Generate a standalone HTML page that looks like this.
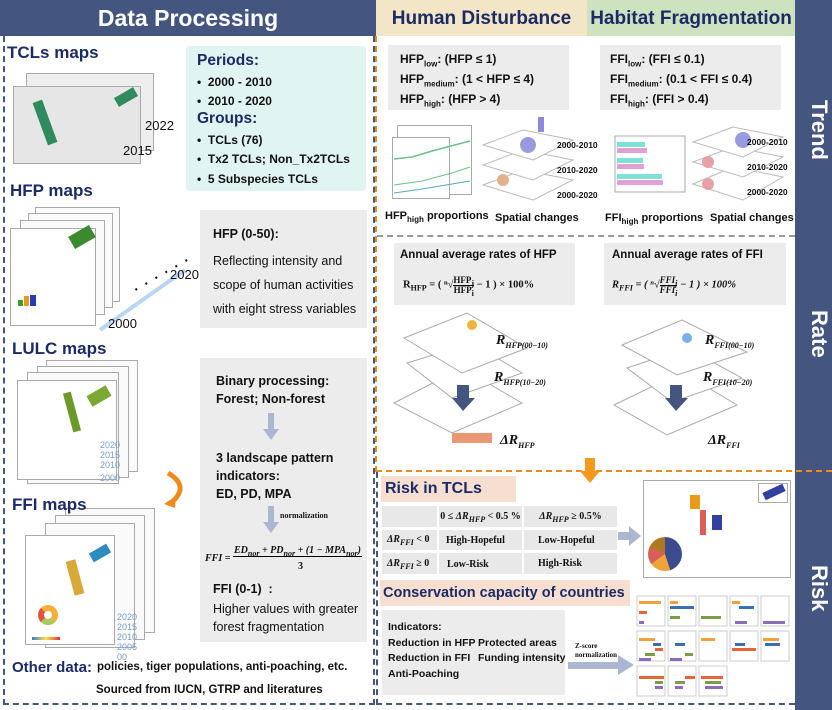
<!DOCTYPE html>
<html><head><meta charset="utf-8"><style>
*{margin:0;padding:0;box-sizing:border-box}
body{width:832px;height:710px;position:relative;background:#fff;font-family:"Liberation Sans",sans-serif;overflow:hidden;color:#111}
.a{position:absolute;white-space:nowrap}
.b{font-weight:bold}
.nv{color:#1c2a66}
.g{background:#ececec}
.serif{font-family:"Liberation Serif",serif;font-weight:bold}
.map{position:absolute;background:#fafafa;border:1px solid #aaa}
sub{font-size:8px;line-height:0}
</style></head><body>
<div class="a b" style="left:0;top:0;width:376px;height:36px;background:#44557f;color:#fff;font-size:23px;text-align:center;line-height:36px">Data Processing</div>
<div class="a b nv" style="left:376px;top:0;width:211px;height:36px;background:#f3e6c6;font-size:19px;text-align:center;line-height:38px">Human Disturbance</div>
<div class="a b nv" style="left:587px;top:0;width:208px;height:36px;background:#cfe2c0;font-size:19px;text-align:center;line-height:38px">Habitat Fragmentation</div>
<div class="a" style="left:795px;top:0;width:37px;height:710px;background:#44557f"></div>
<div class="a b" style="left:795px;top:100px;width:37px;color:#fff;font-size:22px;writing-mode:vertical-rl">Trend</div>
<div class="a b" style="left:795px;top:310px;width:37px;color:#fff;font-size:22px;writing-mode:vertical-rl">Rate</div>
<div class="a b" style="left:795px;top:565px;width:37px;color:#fff;font-size:22px;writing-mode:vertical-rl">Risk</div>

<div class="a" style="left:3px;top:36px;width:372px;height:669px;border:2px dashed #44557f;border-top:none"></div>
<div class="a" style="left:375px;top:36px;width:0;height:436px;border-left:2px dashed #ec8c1e"></div>
<div class="a" style="left:377px;top:235px;width:418px;border-top:2px dashed #999"></div>
<div class="a" style="left:376px;top:470px;width:456px;border-top:2px dashed #ec8c1e"></div>
<div class="a" style="left:376px;top:472px;width:419px;height:233px;border-left:2px dashed #44557f;border-bottom:2px dashed #44557f"></div>

<div class="a b nv" style="left:7px;top:43px;font-size:17px">TCLs maps</div>
<div class="map" style="left:26px;top:73px;width:128px;height:78px;background:#eee"></div>
<div class="map" style="left:13px;top:86px;width:128px;height:78px;background:#e6e6e6"></div>
<div class="a" style="left:40px;top:100px;width:10px;height:45px;background:#2f8a5e;transform:rotate(-20deg)"></div>
<div class="a" style="left:115px;top:92px;width:22px;height:10px;background:#2f8a5e;transform:rotate(-30deg)"></div>
<div class="a" style="left:145px;top:118px;font-size:13px">2022</div>
<div class="a" style="left:123px;top:143px;font-size:13px">2015</div>
<div class="a" style="left:186px;top:46px;width:180px;height:145px;background:#e0f4f2;border-radius:4px"></div>
<div class="a b nv" style="left:197px;top:52px;font-size:15.5px">Periods:</div>
<div class="a b" style="left:197px;top:73px;font-size:12px;line-height:19.3px">•&nbsp;&nbsp;2000 - 2010<br>•&nbsp;&nbsp;2010 - 2020</div>
<div class="a b nv" style="left:197px;top:110px;font-size:15.5px">Groups:</div>
<div class="a b" style="left:197px;top:131px;font-size:12px;line-height:19.3px">•&nbsp;&nbsp;TCLs (76)<br>•&nbsp;&nbsp;Tx2 TCLs; Non_Tx2TCLs<br>•&nbsp;&nbsp;5 Subspecies TCLs</div>

<div class="a b nv" style="left:10px;top:181px;font-size:17px">HFP maps</div>
<div class="map" style="left:35px;top:207px;width:85px;height:95px"></div>
<div class="map" style="left:28px;top:213px;width:85px;height:95px"></div>
<div class="map" style="left:20px;top:220px;width:85px;height:95px"></div>
<div class="map" style="left:10px;top:228px;width:86px;height:98px;background:#fff"></div>
<div class="a" style="left:70px;top:230px;width:24px;height:14px;background:#3b8a2d;transform:rotate(-30deg)"></div>
<div class="a" style="left:18px;top:300px;width:5px;height:6px;background:#3a9d2f"></div>
<div class="a" style="left:24px;top:296px;width:5px;height:10px;background:#e89b1b"></div>
<div class="a" style="left:30px;top:295px;width:6px;height:11px;background:#2c3bb0"></div>
<svg class="a" style="left:95px;top:240px" width="90" height="100"><line x1="5" y1="90" x2="90" y2="30" stroke="#b9d6f2" stroke-width="4"/></svg>
<div class="a" style="left:127px;top:258px;font-size:20px;letter-spacing:6px;transform:rotate(-30deg)">......</div>
<div class="a" style="left:170px;top:267px;font-size:13px">2020</div>
<div class="a" style="left:108px;top:316px;font-size:13px">2000</div>
<div class="a g" style="left:200px;top:210px;width:167px;height:118px"></div>
<div class="a b" style="left:213px;top:227px;font-size:12.5px">HFP (0-50):</div>
<div class="a" style="left:213px;top:249px;font-size:12.5px;line-height:24px">Reflecting intensity and<br>scope of human activities<br>with eight stress variables</div>

<div class="a b nv" style="left:12px;top:339px;font-size:17px">LULC maps</div>
<div class="map" style="left:46px;top:360px;width:92px;height:112px"></div>
<div class="map" style="left:37px;top:366px;width:92px;height:112px"></div>
<div class="map" style="left:27px;top:372px;width:92px;height:112px"></div>
<div class="map" style="left:17px;top:380px;width:100px;height:100px;background:#fff"></div>
<div class="a" style="left:68px;top:392px;width:8px;height:40px;background:#6b9a2a;transform:rotate(-15deg)"></div>
<div class="a" style="left:88px;top:390px;width:22px;height:12px;background:#7aa832;transform:rotate(-30deg)"></div>
<div class="a" style="left:100px;top:440px;font-size:9px;color:#7a9cc6">2020<br>2015<br>2010</div>
<div class="a" style="left:100px;top:473px;font-size:9px;color:#7a9cc6">2000</div>
<svg class="a" style="left:160px;top:468px" width="32" height="40"><path d="M8 5 Q30 18 12 34" stroke="#ec8c1e" stroke-width="5" fill="none"/><path d="M4 36 L16 28 L15 40Z" fill="#ec8c1e"/></svg>
<div class="a g" style="left:200px;top:358px;width:167px;height:284px"></div>
<div class="a b" style="left:216px;top:372px;font-size:12.5px;line-height:18px">Binary processing:<br>Forest; Non-forest</div>
<svg class="a" style="left:262px;top:413px" width="20" height="30"><rect x="6" y="0" width="6" height="18" fill="#aab7cf"/><path d="M1 16 L17 16 L9 27Z" fill="#aab7cf"/></svg>
<div class="a b" style="left:216px;top:449px;font-size:12.5px;line-height:18px">3 landscape pattern<br>indicators:<br>ED, PD, MPA</div>
<svg class="a" style="left:262px;top:506px" width="20" height="30"><rect x="6" y="0" width="6" height="18" fill="#aab7cf"/><path d="M1 16 L17 16 L9 27Z" fill="#aab7cf"/></svg>
<div class="a serif" style="left:280px;top:511px;font-size:8px">normalization</div>
<div class="a serif" style="left:205px;top:553px;font-size:10px;font-style:italic">FFI =</div>
<div class="a serif" style="left:233px;top:545px;font-size:10px;font-style:italic;border-bottom:1px solid #000;padding:0 1px">ED<sub>nor</sub> + PD<sub>nor</sub> + (1 − MPA<sub>nor</sub>)</div>
<div class="a serif" style="left:298px;top:561px;font-size:10px">3</div>
<div class="a b" style="left:213px;top:582px;font-size:12.5px">FFI (0-1)&nbsp;&nbsp;:</div>
<div class="a" style="left:213px;top:600px;font-size:12.5px;line-height:18px">Higher values with greater<br>forest fragmentation</div>

<div class="map" style="left:65px;top:508px;width:90px;height:125px"></div>
<div class="map" style="left:55px;top:515px;width:90px;height:125px"></div>
<div class="map" style="left:45px;top:523px;width:90px;height:125px"></div>
<div class="map" style="left:25px;top:535px;width:90px;height:110px;background:#fff"></div>
<div class="a b nv" style="left:12px;top:495px;font-size:17px">FFI maps</div>
<div class="a" style="left:90px;top:548px;width:20px;height:10px;background:#2e8bbd;transform:rotate(-30deg)"></div>
<div class="a" style="left:70px;top:560px;width:10px;height:35px;background:#d9a83a;transform:rotate(-15deg)"></div>
<div class="a" style="left:38px;top:605px;width:20px;height:20px;border-radius:50%;border:6px solid #f2b23a;border-left-color:#e2543c;border-bottom-color:#a9c95a"></div>
<div class="a" style="left:32px;top:637px;width:28px;height:3px;background:linear-gradient(90deg,#3b7bd1,#ffe04a,#d33)"></div>
<div class="a" style="left:117px;top:612px;font-size:9px;color:#7a9cc6">2020<br>2015<br>2010<br>2005<br>00</div>

<div class="a b nv" style="left:12px;top:659px;font-size:15px">Other data:</div>
<div class="a b" style="left:97px;top:661px;font-size:11.5px">policies, tiger populations, anti-poaching, etc.</div>
<div class="a b" style="left:96px;top:684px;font-size:11.5px">Sourced from IUCN, GTRP and literatures</div>

<div class="a g" style="left:388px;top:45px;width:181px;height:65px"></div>
<div class="a b" style="left:400px;top:49px;font-size:12px;line-height:20px">HFP<sub>low</sub>: (HFP ≤ 1)<br>HFP<sub>medium</sub>: (1 &lt; HFP ≤ 4)<br>HFP<sub>high</sub>: (HFP &gt; 4)</div>
<div class="a g" style="left:600px;top:45px;width:181px;height:65px"></div>
<div class="a b" style="left:610px;top:49px;font-size:12px;line-height:20px">FFI<sub>low</sub>: (FFI ≤ 0.1)<br>FFI<sub>medium</sub>: (0.1 &lt; FFI ≤ 0.4)<br>FFI<sub>high</sub>: (FFI &gt; 0.4)</div>
<div class="map" style="left:397px;top:125px;width:75px;height:70px;background:#fff"></div>
<div class="map" style="left:392px;top:137px;width:58px;height:62px;background:#fff"></div>
<svg class="a" style="left:392px;top:137px" width="80" height="62"><polyline points="2,22 20,20 40,14 78,4" stroke="#6cc08a" fill="none" stroke-width="1.5"/><polyline points="2,48 30,44 60,36 78,30" stroke="#6cc08a" fill="none"/><polyline points="2,56 30,52 78,44" stroke="#5ab" fill="none"/></svg>
<div class="a b" style="left:385px;top:210px;font-size:11px">HFP<sub>high</sub> proportions</div>
<svg class="a" style="left:478px;top:115px" width="100" height="90"><g fill="#fff" stroke="#bbb"><path d="M5 70 L45 55 L95 65 L55 85Z"/><path d="M5 50 L45 35 L95 45 L55 65Z"/><path d="M5 30 L45 15 L95 25 L55 45Z"/></g><circle cx="25" cy="65" r="6" fill="#e0b38a"/><circle cx="50" cy="30" r="8" fill="#9a9ae0"/><rect x="60" y="2" width="6" height="15" fill="#8a8ad8"/></svg>
<div class="a b" style="left:557px;top:133px;font-size:8.5px;line-height:25px">2000-2010<br>2010-2020<br>2000-2020</div>
<div class="a b" style="left:495px;top:212px;font-size:11px">Spatial changes</div>
<svg class="a" style="left:605px;top:132px" width="85" height="62"><rect x="10" y="4" width="70" height="56" fill="#fff" stroke="#aaa"/><rect x="12" y="10" width="28" height="5" fill="#7fe0d8"/><rect x="12" y="16" width="30" height="5" fill="#e2a0d8"/><rect x="12" y="26" width="26" height="5" fill="#7fe0d8"/><rect x="12" y="32" width="27" height="5" fill="#e2a0d8"/><rect x="12" y="42" width="45" height="5" fill="#7fe0d8"/><rect x="12" y="48" width="46" height="5" fill="#e2a0d8"/></svg>
<div class="a b" style="left:605px;top:212px;font-size:11px">FFI<sub>high</sub> proportions</div>
<svg class="a" style="left:688px;top:112px" width="100" height="92"><g fill="#fff" stroke="#bbb"><path d="M5 72 L45 55 L95 65 L55 88Z"/><path d="M5 50 L45 35 L95 45 L55 65Z"/><path d="M5 30 L45 15 L95 25 L55 45Z"/></g><circle cx="20" cy="72" r="6" fill="#e8a0a8"/><circle cx="20" cy="50" r="6" fill="#e8a0a8"/><circle cx="55" cy="28" r="8" fill="#9a9ae0"/></svg>
<div class="a b" style="left:747px;top:130px;font-size:8.5px;line-height:25px">2000-2010<br>2010-2020<br>2000-2020</div>
<div class="a b" style="left:710px;top:212px;font-size:11px">Spatial changes</div>

<div class="a g" style="left:394px;top:243px;width:181px;height:62px"></div>
<div class="a b" style="left:400px;top:249px;font-size:11.5px">Annual average rates of HFP</div>
<div class="a serif" style="left:403px;top:275px;font-size:10.5px">R<sub>HFP</sub> = ( ⁿ√<span style="display:inline-block;vertical-align:middle;text-align:center;font-size:9px;line-height:10px"><span style="border-bottom:1px solid #000">HFP<sub>j</sub></span><br>HFP<sub>i</sub></span> − 1 ) × 100%</div>
<div class="a g" style="left:604px;top:243px;width:182px;height:62px"></div>
<div class="a b" style="left:612px;top:249px;font-size:11.5px">Annual average rates of FFI</div>
<div class="a serif" style="left:612px;top:275px;font-size:10.5px;font-style:italic">R<sub>FFI</sub> = ( ⁿ√<span style="display:inline-block;vertical-align:middle;text-align:center;font-size:9px;line-height:10px"><span style="border-bottom:1px solid #000">FFI<sub>j</sub></span><br>FFI<sub>i</sub></span> − 1 ) × 100%</div>
<svg class="a" style="left:392px;top:303px" width="160" height="160"><g fill="#fff" stroke="#aaa"><path d="M2 100 L70 65 L130 100 L60 130Z"/><path d="M15 60 L80 40 L130 70 L60 95Z"/><path d="M12 35 L75 10 L135 45 L70 70Z"/></g><circle cx="80" cy="22" r="5" fill="#f0b33a"/><rect x="65" y="82" width="12" height="14" fill="#44557f"/><path d="M60 95 L83 95 L71 108Z" fill="#44557f"/><rect x="60" y="130" width="40" height="10" fill="#e36a3a" opacity=".7"/></svg>
<div class="a serif" style="left:496px;top:333px;font-size:14px;font-style:italic">R<sub>HFP(00−10)</sub></div>
<div class="a serif" style="left:494px;top:370px;font-size:14px;font-style:italic">R<sub>HFP(10−20)</sub></div>
<div class="a serif" style="left:500px;top:433px;font-size:14px;font-style:italic">ΔR<sub>HFP</sub></div>
<svg class="a" style="left:612px;top:310px" width="160" height="160"><g fill="#fff" stroke="#aaa"><path d="M2 95 L70 62 L125 95 L55 125Z"/><path d="M15 58 L75 38 L130 68 L60 92Z"/><path d="M10 35 L70 10 L135 42 L65 65Z"/></g><circle cx="75" cy="28" r="5" fill="#7ab0e8"/><rect x="58" y="75" width="12" height="14" fill="#44557f"/><path d="M53 88 L76 88 L64 101Z" fill="#44557f"/></svg>
<div class="a serif" style="left:705px;top:333px;font-size:14px;font-style:italic">R<sub>FFI(00−10)</sub></div>
<div class="a serif" style="left:703px;top:370px;font-size:14px;font-style:italic">R<sub>FFI(10−20)</sub></div>
<div class="a serif" style="left:708px;top:433px;font-size:14px;font-style:italic">ΔR<sub>FFI</sub></div>
<svg class="a" style="left:580px;top:458px" width="20" height="28"><rect x="5" y="0" width="10" height="14" fill="#f39a1e"/><path d="M0 13 L20 13 L10 25Z" fill="#f39a1e"/></svg>

<div class="a b nv" style="left:381px;top:476px;width:135px;height:26px;background:#f6dfd0;font-size:16px;line-height:26px;padding-left:4px">Risk in TCLs</div>
<div class="a" style="left:382px;top:506px;width:55px;height:21px;background:#e8e8e8"></div>
<div class="a serif" style="left:439px;top:506px;width:83px;height:21px;background:#e8e8e8;font-size:10px;line-height:21px;text-align:center">0 ≤ <i>ΔR<sub>HFP</sub></i> &lt; 0.5 %</div>
<div class="a serif" style="left:524px;top:506px;width:93px;height:21px;background:#e8e8e8;font-size:10px;line-height:21px;text-align:center"><i>ΔR<sub>HFP</sub></i> ≥ 0.5%</div>
<div class="a serif" style="left:382px;top:530px;width:55px;height:20px;background:#e8e8e8;font-size:10px;line-height:20px;padding-left:5px"><i>ΔR<sub>FFI</sub></i> &lt; 0</div>
<div class="a serif" style="left:439px;top:530px;width:83px;height:20px;background:#e8e8e8;font-size:10px;line-height:22px;padding-left:7px">High-Hopeful</div>
<div class="a serif" style="left:524px;top:530px;width:93px;height:20px;background:#e8e8e8;font-size:10px;line-height:22px;padding-left:14px">Low-Hopeful</div>
<div class="a serif" style="left:382px;top:553px;width:55px;height:21px;background:#e8e8e8;font-size:10px;line-height:21px;padding-left:5px"><i>ΔR<sub>FFI</sub></i> ≥ 0</div>
<div class="a serif" style="left:439px;top:553px;width:83px;height:21px;background:#e8e8e8;font-size:10px;line-height:23px;padding-left:8px">Low-Risk</div>
<div class="a serif" style="left:524px;top:553px;width:93px;height:21px;background:#e8e8e8;font-size:10px;line-height:21px;padding-left:14px">High-Risk</div>
<svg class="a" style="left:618px;top:525px" width="24" height="22"><rect x="0" y="7" width="12" height="8" fill="#aab7cf"/><path d="M11 1 L23 11 L11 21Z" fill="#aab7cf"/></svg>
<div class="map" style="left:643px;top:480px;width:148px;height:98px;background:#fff"></div>
<div class="a" style="left:758px;top:483px;width:30px;height:20px;border:1px solid #aaa"></div>
<div class="a" style="left:763px;top:488px;width:22px;height:8px;background:#3440a0;transform:rotate(-25deg)"></div>
<div class="a" style="left:690px;top:495px;width:10px;height:14px;background:#e89b1b"></div>
<div class="a" style="left:700px;top:510px;width:6px;height:25px;background:#d9605a"></div>
<div class="a" style="left:712px;top:515px;width:10px;height:15px;background:#3440a0"></div>
<div class="a" style="left:648px;top:537px;width:34px;height:34px;border-radius:50%;background:conic-gradient(#3c4a8e 0 45%,#f0a33a 45% 65%,#d9605a 65% 82%,#b07820 82%)"></div>
<div class="a b nv" style="left:380px;top:580px;width:250px;height:26px;background:#f6dfd0;font-size:14.5px;line-height:26px;padding-left:3px">Conservation capacity of countries</div>
<div class="a g" style="left:382px;top:610px;width:183px;height:85px"></div>
<div class="a b" style="left:388px;top:620px;font-size:10.5px;line-height:15.5px">Indicators:<br>Reduction in HFP<br>Reduction in FFI<br>Anti-Poaching</div>
<div class="a b" style="left:478px;top:635.5px;font-size:10.5px;line-height:15.5px">Protected areas<br>Funding intensity</div>
<div class="a serif" style="left:575px;top:642px;font-size:7px;line-height:9px">Z-score<br>normalization</div>
<svg class="a" style="left:568px;top:655px" width="68" height="22"><rect x="0" y="7" width="52" height="7" fill="#aab7cf"/><path d="M50 0 L66 10 L50 20Z" fill="#aab7cf"/></svg>
<svg class="a" style="left:635px;top:594px" width="158" height="112">
<g fill="#fff" stroke="#ccc">
<rect x="2" y="2" width="28" height="30"/><rect x="33" y="2" width="28" height="30"/><rect x="64" y="2" width="28" height="30"/><rect x="95" y="2" width="28" height="30"/><rect x="126" y="2" width="28" height="30"/>
<rect x="2" y="37" width="28" height="30"/><rect x="33" y="37" width="28" height="30"/><rect x="64" y="37" width="28" height="30"/><rect x="95" y="37" width="28" height="30"/><rect x="126" y="37" width="28" height="30"/>
<rect x="2" y="72" width="28" height="30"/><rect x="33" y="72" width="28" height="30"/><rect x="64" y="72" width="28" height="30"/></g>
<g fill="#f0a33a"><rect x="4" y="7" width="22" height="3"/><rect x="35" y="7" width="8" height="3"/><rect x="97" y="7" width="8" height="3"/><rect x="4" y="44" width="16" height="3"/><rect x="66" y="44" width="14" height="3"/><rect x="128" y="44" width="16" height="3"/></g>
<g fill="#3a6fb0"><rect x="35" y="12" width="24" height="3"/><rect x="104" y="12" width="15" height="3"/><rect x="18" y="49" width="8" height="3"/><rect x="40" y="49" width="10" height="3"/><rect x="130" y="49" width="15" height="3"/><rect x="100" y="49" width="10" height="3"/></g>
<g fill="#e3653a"><rect x="4" y="17" width="8" height="3"/><rect x="20" y="54" width="8" height="3"/><rect x="97" y="54" width="24" height="3"/><rect x="4" y="82" width="25" height="3"/><rect x="50" y="82" width="10" height="3"/><rect x="66" y="82" width="22" height="3"/></g>
<g fill="#7f9b4a"><rect x="35" y="22" width="10" height="3"/><rect x="66" y="22" width="20" height="3"/><rect x="10" y="59" width="10" height="3"/><rect x="50" y="59" width="8" height="3"/><rect x="20" y="87" width="8" height="3"/><rect x="40" y="87" width="10" height="3"/><rect x="70" y="87" width="16" height="3"/></g>
<g fill="#8a6fb8"><rect x="4" y="27" width="5" height="3"/><rect x="128" y="27" width="22" height="3"/><rect x="100" y="27" width="12" height="3"/><rect x="4" y="64" width="12" height="3"/><rect x="35" y="64" width="12" height="3"/><rect x="20" y="92" width="8" height="3"/><rect x="40" y="92" width="8" height="3"/><rect x="70" y="92" width="18" height="3"/></g>
</svg>
</body></html>
